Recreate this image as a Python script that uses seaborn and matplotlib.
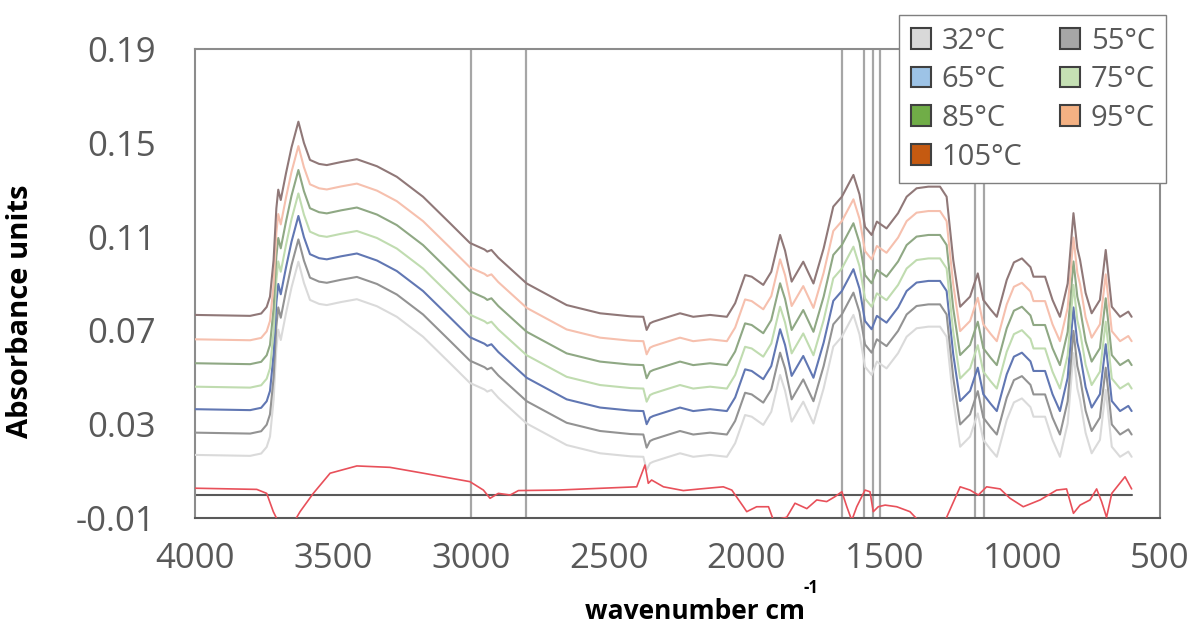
import pandas as pd
import seaborn as sns
import matplotlib.pyplot as plt
from matplotlib.patches import Patch

# top spectrum (105 C)
wavenumber = [4000, 3800, 3760, 3740, 3728, 3715, 3705, 3698, 3689, 3670, 3650, 3625,
              3605, 3583, 3550, 3522, 3470, 3413, 3340, 3268, 3173, 3075, 3003, 2950,
              2940, 2925, 2900, 2797, 2652, 2531, 2420, 2374, 2362, 2350, 2338, 2290,
              2241, 2193, 2132, 2071, 2041, 2005, 1981, 1939, 1910, 1878, 1860, 1836,
              1794, 1757, 1720, 1685, 1654, 1612, 1590, 1570, 1546, 1527, 1492, 1450,
              1419, 1383, 1340, 1298, 1274, 1250, 1225, 1189, 1161, 1141, 1115, 1092,
              1056, 1030, 1001, 970, 959, 917, 890, 863, 835, 814, 800, 790, 770, 748,
              718, 697, 675, 645, 615, 603]
absorbance_105 = [0.0766, 0.0762, 0.0772, 0.0800, 0.0844, 0.1000, 0.1220, 0.1300, 0.1256,
                  0.1370, 0.1480, 0.1590, 0.1500, 0.1427, 0.1410, 0.1405, 0.1418, 0.1430,
                  0.1400, 0.1355, 0.1270, 0.1157, 0.1073, 0.1045, 0.1036, 0.1043, 0.1010,
                  0.0900, 0.0808, 0.0773, 0.0760, 0.0758, 0.0702, 0.0730, 0.0737, 0.0755,
                  0.0773, 0.0758, 0.0766, 0.0758, 0.0816, 0.0936, 0.0929, 0.0894, 0.0950,
                  0.1107, 0.1040, 0.0908, 0.0993, 0.0900, 0.1050, 0.1228, 0.1270, 0.1363,
                  0.1280, 0.1142, 0.1107, 0.1164, 0.1135, 0.1200, 0.1270, 0.1306, 0.1313,
                  0.1313, 0.1270, 0.1000, 0.0801, 0.0844, 0.0943, 0.0830, 0.0790, 0.0758,
                  0.0915, 0.0990, 0.1007, 0.0970, 0.0929, 0.0929, 0.0830, 0.0758, 0.0900,
                  0.1200, 0.1050, 0.1000, 0.0860, 0.0773, 0.0830, 0.1043, 0.0801, 0.0758,
                  0.0780, 0.0758]

temps = ['32°C', '55°C', '65°C', '75°C', '85°C', '95°C', '105°C']
shift = [-0.0597, -0.0502, -0.0402, -0.0306, -0.0206, -0.0104, 0.0]
line_colors = ['#dadada', '#939393', '#6177b3', '#c0dcb0', '#8fa884', '#f6c0ae', '#907878']
legend_colors = ['#d9d9d9', '#a6a6a6', '#9dc3e6', '#c5e0b4', '#70ad47', '#f4b183', '#c55a11']

# difference spectrum (red)
diff_wavenumber = [4000, 3776, 3740, 3716, 3706, 3690, 3650, 3631, 3619, 3571, 3510, 3413,
                   3293, 3172, 3003, 2954, 2930, 2900, 2857, 2827, 2688, 2398, 2368, 2356,
                   2344, 2301, 2229, 2168, 2084, 2053, 2011, 1999, 1963, 1920, 1902, 1854,
                   1824, 1781, 1745, 1709, 1679, 1654, 1636, 1618, 1600, 1570, 1552, 1540,
                   1522, 1497, 1455, 1407, 1377, 1330, 1286, 1274, 1225, 1189, 1159, 1129,
                   1080, 1044, 996, 935, 875, 839, 814, 790, 754, 730, 712, 694, 675, 627, 603]
diff_absorbance = [0.0027, 0.0022, 0.0005, -0.0073, -0.0097, -0.015, -0.015, -0.0097, -0.0073,
                   0.0005, 0.0091, 0.0122, 0.0116, 0.0091, 0.0055, 0.0019, -0.0016, 0.0005,
                   -0.0002, 0.0017, 0.0019, 0.0033, 0.0126, 0.0048, 0.0062, 0.0033, 0.0017,
                   0.0024, 0.0033, 0.0019, -0.0052, -0.0073, -0.0052, -0.0052, -0.011, -0.0097,
                   -0.0037, -0.006, -0.0023, -0.003, -0.0009, 0.0012, -0.0052, -0.011, -0.0052,
                   0.0019, 0.0012, -0.0073, -0.0052, -0.0045, -0.0052, -0.0073, -0.011, -0.016,
                   -0.014, -0.0097, 0.0033, 0.0019, -0.0002, 0.0033, 0.0024, -0.0016, -0.0052,
                   -0.0023, 0.0019, 0.0024, -0.008, -0.0045, -0.0023, 0.0024, -0.003, -0.0097,
                   0.0005, 0.0076, 0.0024]

band_lines = [3000, 2800, 1655, 1575, 1540, 1515, 1170, 1140]
yticks = [-0.01, 0.03, 0.07, 0.11, 0.15, 0.19]
xticks = [4000, 3500, 3000, 2500, 2000, 1500, 1000, 500]

sns.set_theme(style='white')
plt.rcParams['font.family'] = ['Open Sans', 'DejaVu Sans']
plt.rcParams['axes.unicode_minus'] = False

frames = []
for t, s in zip(temps, shift):
    frames.append(pd.DataFrame({'wavenumber': wavenumber,
                                'absorbance': [a + s for a in absorbance_105],
                                'temp': t}))
df = pd.concat(frames)
diff = pd.DataFrame({'wavenumber': diff_wavenumber, 'absorbance': diff_absorbance})

fig = plt.figure(figsize=(12, 6.25), dpi=100)
ax = fig.add_axes([0.1625, 0.1712, 0.8042, 0.7504])

for x in band_lines:
    ax.axvline(x, color='#a6a6a6', lw=1.6, zorder=1)
ax.plot([4000, 603], [0, 0], color='#595959', lw=1.5, zorder=1)

sns.lineplot(data=df, x='wavenumber', y='absorbance', hue='temp',
             palette=dict(zip(temps, line_colors)), estimator=None,
             lw=1.5, legend=False, ax=ax, zorder=3)
sns.lineplot(data=diff, x='wavenumber', y='absorbance', color='#e8505a',
             estimator=None, lw=1.2, ax=ax, zorder=3)

ax.set_xlim(4000, 500)
ax.set_ylim(-0.01, 0.19)
ax.set_xticks(xticks)
ax.set_yticks(yticks)
ax.set_yticklabels([f'{v:.2f}' for v in yticks])
ax.tick_params(axis='both', direction='inout', length=19, width=1.3,
               color='#7f7f7f', labelsize=25, labelcolor='#595959')
ax.tick_params(axis='y', pad=19)
ax.tick_params(axis='x', pad=8)
for sp in ax.spines.values():
    sp.set_color('#8c8c8c')
    sp.set_linewidth(1.5)
ax.spines['bottom'].set_color('#595959')

ax.set_ylabel('Absorbance units', fontsize=21, fontweight='bold', color='black')
ax.yaxis.set_label_coords(-0.166, 0.44)
ax.set_xlabel('wavenumber cm', fontsize=19, fontweight='bold', color='black')
ax.xaxis.set_label_coords(0.518, -0.17)
fig.text(803 / 1200, 1 - 588 / 625, '-1', fontsize=12, fontweight='bold',
         color='black', ha='left', va='center')

# legend filled row by row like the original
order = [0, 2, 4, 6, 1, 3, 5]
handles = [Patch(facecolor=legend_colors[i], edgecolor='#404040', lw=1.5) for i in order]
labels = [temps[i] for i in order]
fig.legend(handles, labels, loc='upper right', bbox_to_anchor=(0.972, 0.976),
           bbox_transform=fig.transFigure, borderaxespad=0,
           ncol=2, fontsize=21, frameon=True, fancybox=False, framealpha=1,
           edgecolor='#7f7f7f', handlelength=0.7, handleheight=0.7,
           handletextpad=0.35, columnspacing=1.3, labelspacing=0.33,
           borderpad=0.4, labelcolor='#595959')

fig.savefig('out.png', dpi=100)
